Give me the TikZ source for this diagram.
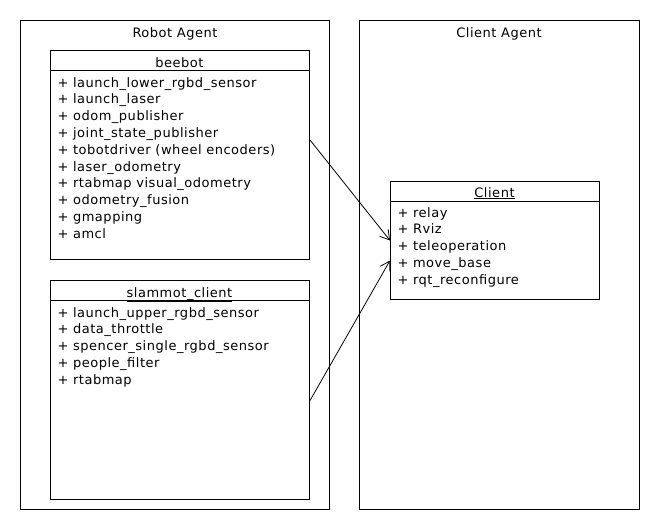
\documentclass[tikz,border=0pt]{standalone}
\usepackage{fontspec}
\setmainfont[LetterSpace=4]{DejaVu Sans}
\usetikzlibrary{arrows.meta}
\begin{document}
\begin{tikzpicture}[x=1pt,y=-1pt,line width=1pt,
  txt/.style={anchor=base west,inner sep=0pt,font=\fontsize{13}{15}\selectfont},
  ttl/.style={anchor=base,inner sep=0pt,font=\fontsize{13}{15}\selectfont},
  boxx/.style={draw,anchor=north west,inner sep=0pt},
  conn/.style={line width=0.8pt,-{Straight Barb[length=9pt,width=11pt,line width=0.8pt]}}]
\useasboundingbox[fill=white] (0,0) rectangle (660,530);
% agent frames
\node[boxx,minimum width=309pt,minimum height=489pt] (robot) at (20,20) {};
\node[boxx,minimum width=280pt,minimum height=489pt] (clientagent) at (359,20) {};
\node[ttl] (robottitle) at (175,37) {Robot Agent};
\node[ttl] (clienttitle) at (499,37) {Client Agent};
% beebot
\node[boxx,minimum width=259pt,minimum height=209pt] (beebot) at (50,50) {};
\draw ([yshift=-20.5pt]beebot.north west) -- ([yshift=-20.5pt]beebot.north east);
\node[ttl] (beebottitle) at (179.5,67) {beebot};
\foreach \t [count=\i from 0] in {{+ launch\_lower\_rgbd\_sensor},{+ launch\_laser},{+ odom\_publisher},{+ joint\_state\_publisher},{+ tobotdriver (wheel encoders)},{+ laser\_odometry},{+ rtabmap visual\_odometry},{+ odometry\_fusion},{+ gmapping},{+ amcl}}
  \node[txt] (b\i) at (57,87+16.8*\i) {\t};
% slammot_client
\node[boxx,minimum width=259pt,minimum height=219pt] (slam) at (50,280) {};
\draw ([yshift=-20.5pt]slam.north west) -- ([yshift=-20.5pt]slam.north east);
\node[ttl] (slamtitle) at (179.5,297) {\underline{slammot\_client}};
\foreach \t [count=\i from 0] in {{+ launch\_upper\_rgbd\_sensor},{+ data\_throttle},{+ spencer\_single\_rgbd\_sensor},{+ people\_filter},{+ rtabmap}}
  \node[txt] (s\i) at (57,317+16.8*\i) {\t};
% Client
\node[boxx,minimum width=209pt,minimum height=118pt] (client) at (390,181) {};
\draw ([yshift=-20pt]client.north west) -- ([yshift=-20pt]client.north east);
\node[ttl] (clienttitle2) at (494.5,197) {\underline{Client}};
\foreach \t [count=\i from 0] in {{+ relay},{+ Rviz},{+ teleoperation},{+ move\_base},{+ rqt\_reconfigure}}
  \node[txt] (c\i) at (397,217+16.8*\i) {\t};
% connectors
\draw[conn] ([yshift=-90pt]beebot.north east) -- (client.west);
\draw[conn] ([yshift=-10.5pt]slam.east) -- ([yshift=-20pt]client.west);
\end{tikzpicture}
\end{document}
